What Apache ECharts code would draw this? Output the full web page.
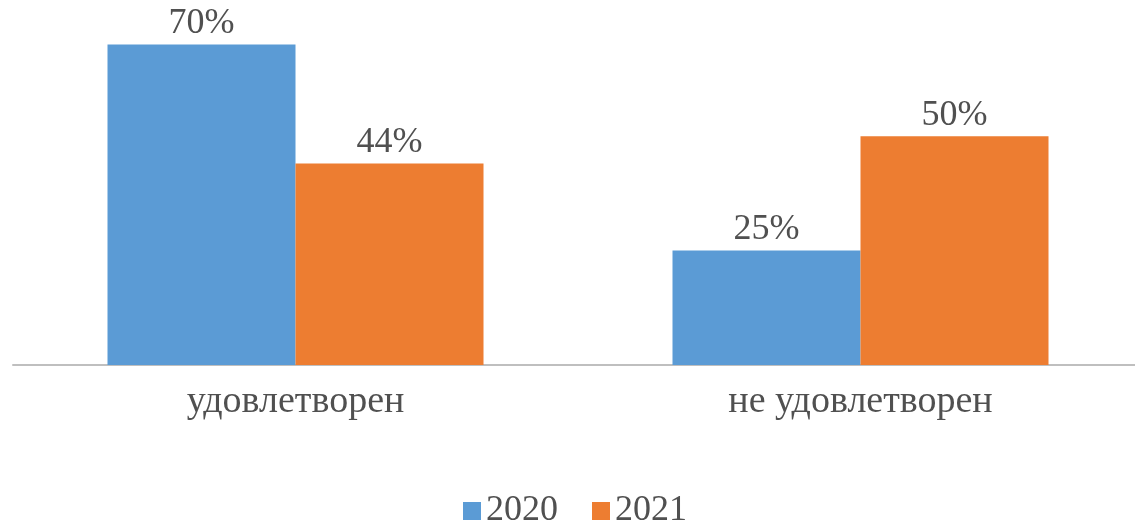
<!DOCTYPE html>
<html>
<head>
<meta charset="utf-8">
<script src="https://cdn.jsdelivr.net/npm/echarts@6/dist/echarts.min.js"></script>
<style>
  html, body { margin: 0; padding: 0; background: #fff; }
  #chart { width: 1135px; height: 526px; }
</style>
</head>
<body>
<div id="chart"></div>
<script>
  const categories = ['удовлетворен', 'не удовлетворен'];
  const seriesNames = ['2020', '2021'];
  const values2020 = [70, 25];
  const values2021 = [44, 50];

  const font = '"Liberation Serif", "Times New Roman", serif';
  const textColor = '#505050';

  const myChart = echarts.init(document.getElementById('chart'));

  const option = {
    animation: false,
    grid: { left: 13, width: 1130, top: 8, bottom: 161, outerBoundsMode: 'none' },
    legend: {
      data: seriesNames,
      top: 488,
      left: 458,
      itemWidth: 18,
      itemHeight: 18,
      itemGap: 34,
      icon: 'rect',
      textStyle: { fontFamily: font, fontSize: 36, color: textColor }
    },
    xAxis: {
      type: 'category',
      data: categories,
      axisLine: { lineStyle: { color: '#bfbfbf', width: 2 } },
      axisTick: { show: false },
      axisLabel: { fontFamily: font, fontSize: 38, color: textColor, margin: 18 }
    },
    yAxis: {
      type: 'value',
      min: 0,
      max: 78,
      show: false,
      splitLine: { show: false }
    },
    series: [
      {
        name: seriesNames[0],
        type: 'bar',
        data: values2020,
        barWidth: 188,
        barGap: '0%',
        itemStyle: { color: '#5b9bd5' },
        label: {
          show: true, position: 'top', distance: 3, formatter: '{c}%',
          fontFamily: font, fontSize: 36, color: textColor
        }
      },
      {
        name: seriesNames[1],
        type: 'bar',
        data: values2021,
        barWidth: 188,
        barGap: '0%',
        itemStyle: { color: '#ed7d31' },
        label: {
          show: true, position: 'top', distance: 3, formatter: '{c}%',
          fontFamily: font, fontSize: 36, color: textColor
        }
      }
    ]
  };

  myChart.setOption(option);
</script>
</body>
</html>
